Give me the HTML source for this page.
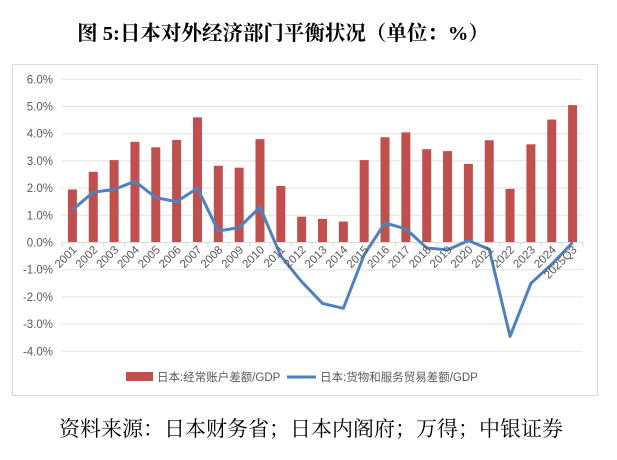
<!DOCTYPE html>
<html><head><meta charset="utf-8"><style>
body{margin:0;background:#fff;width:617px;height:455px;overflow:hidden}
</style></head><body>
<svg width="617" height="455" xmlns="http://www.w3.org/2000/svg" font-family="'Liberation Sans','Noto Sans CJK SC',sans-serif">
<text x="283" y="40" text-anchor="middle" font-family="'Liberation Serif','Noto Serif CJK SC',serif" font-weight="bold" font-size="20.5" fill="#000">图 5:日本对外经济部门平衡状况（单位：%）</text>
<rect x="12.5" y="64.5" width="585" height="331" fill="#fff" stroke="#d9d9d9"/>
<g id="grid" stroke="#e3e3e3" stroke-width="1"></g>
<g id="c"></g>
<text x="311" y="436" text-anchor="middle" font-family="'Liberation Serif','Noto Serif CJK SC',serif" font-size="21" fill="#000">资料来源：日本财务省；日本内阁府；万得；中银证券</text>
<rect x="126" y="372" width="27" height="9" fill="#c0504d"/>
<text x="157" y="381" font-size="11.5" fill="#595959">日本:经常账户差额/GDP</text>
<line x1="287" y1="377" x2="316" y2="377" stroke="#4f81bd" stroke-width="3"/>
<text x="320" y="381" font-size="11.5" fill="#595959">日本:货物和服务贸易差额/GDP</text>
</svg>
<script>
const ns="http://www.w3.org/2000/svg";
const c=document.getElementById('c'),g=document.getElementById('grid');
function el(t,a,p){const e=document.createElementNS(ns,t);for(const k in a)e.setAttribute(k,a[k]);(p||c).appendChild(e);return e;}
const y0=242.5,u=27.2,L=62,R=583,n=25,w=(R-L)/n;
const Y=v=>y0-v*u;
for(let v=-4;v<=6;v++){
 if(v!==0) el('line',{x1:L,x2:R,y1:Y(v),y2:Y(v)},g);
 const t=el('text',{x:53,y:Y(v)+4,'text-anchor':'end','font-size':11.5,fill:'#595959'});t.textContent=v.toFixed(1)+'%';
}
const bars=[1.95,2.6,3.03,3.7,3.5,3.77,4.6,2.82,2.75,3.8,2.08,0.95,0.87,0.77,3.03,3.87,4.05,3.43,3.36,2.89,3.76,1.97,3.61,4.52,5.05];
const line=[1.2,1.85,1.95,2.25,1.65,1.5,2.0,0.42,0.55,1.3,-0.5,-1.44,-2.24,-2.42,-0.45,0.72,0.5,-0.2,-0.27,0.07,-0.25,-3.45,-1.5,-0.8,0.0];
const labs=[];for(let i=2001;i<=2024;i++)labs.push(''+i);labs.push('2025Q3');
bars.forEach((v,i)=>{const x=L+w*(i+0.5);el('rect',{x:x-4.5,y:Y(v),width:9,height:v*u,fill:'#c0504d'});});
el('line',{x1:L,x2:R,y1:y0,y2:y0,stroke:'#d9d9d9'});
for(let i=0;i<=n;i++){const x=L+w*i;el('line',{x1:x,x2:x,y1:y0,y2:y0+4,stroke:'#d9d9d9'});}
el('polyline',{points:line.map((v,i)=>(L+w*(i+0.5))+','+Y(v)).join(' '),fill:'none',stroke:'#4f81bd','stroke-width':3,'stroke-linejoin':'round'});
labs.forEach((s,i)=>{const x=L+w*(i+0.5)+5;const t=el('text',{x:x,y:y0+8,'text-anchor':'end','font-size':11.5,fill:'#595959',transform:`rotate(-45 ${x} ${y0+8})`});t.textContent=s;});
</script>
</body></html>
